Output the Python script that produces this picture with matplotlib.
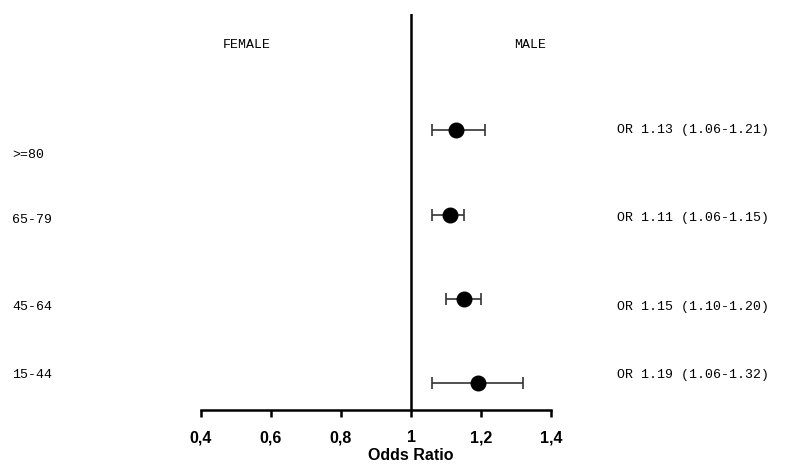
import matplotlib
matplotlib.use("Agg")
import matplotlib.pyplot as plt

## data
groups = [">=80", "65-79", "45-64", "15-44"]
odds = [1.13, 1.11, 1.15, 1.19]
ci_low = [1.06, 1.06, 1.10, 1.06]
ci_high = [1.21, 1.15, 1.20, 1.32]
or_text = ["OR 1.13 (1.06-1.21)", "OR 1.11 (1.06-1.15)",
           "OR 1.15 (1.10-1.20)", "OR 1.19 (1.06-1.32)"]
xticks = [0.4, 0.6, 0.8, 1.0, 1.2, 1.4]
xticklabels = ["0,4", "0,6", "0,8", "1", "1,2", "1,4"]

W, H = 788, 475
fig = plt.figure(figsize=(W / 100, H / 100), dpi=100)
# axes placed in pixel units: x 201..551, y 14..410 from top
ax = fig.add_axes([201 / W, (H - 410) / H, 350 / W, 396 / H])
ax.set_xlim(0.4, 1.4)
ax.set_ylim(0.68, 5.38)

ypos = [4, 3, 2, 1]
xerr = [[o - l for o, l in zip(odds, ci_low)],
        [h - o for o, h in zip(odds, ci_high)]]
ax.errorbar(odds, ypos, xerr=xerr, fmt="o", color="black", ms=10.5,
            elinewidth=1.2, capsize=4, capthick=1.2, ecolor="#333333")

ax.axvline(1.0, color="black", lw=1.8)

for s in ["top", "right", "left"]:
    ax.spines[s].set_visible(False)
ax.spines["bottom"].set_linewidth(1.8)
ax.set_yticks([])
ax.set_xticks(xticks)
ax.set_xticklabels(xticklabels, fontfamily="Liberation Sans",
                   fontweight="bold", fontsize=11.5)
ax.tick_params(axis="x", length=5, width=1.8, pad=9.5)


def px(x, y):
    # pixel from top-left to figure coords
    return x / W, 1 - y / H


fig.text(*px(411, 456), "Odds Ratio", fontfamily="Liberation Sans",
         fontweight="bold", fontsize=11.5, ha="center", va="center")

mono = dict(fontfamily="Liberation Mono", fontsize=9.5, va="center")

left_y = [155, 220, 307, 375]
right_y = [130, 218, 307, 375]
for g, t, ly, ry in zip(groups, or_text, left_y, right_y):
    fig.text(*px(12, ly), g, ha="left", **mono)
    fig.text(*px(617, ry), t, ha="left", **mono)

fig.text(*px(247, 45), "FEMALE", ha="center", **mono)
fig.text(*px(530, 45), "MALE", ha="center", **mono)

fig.savefig("out.png", dpi=100)
